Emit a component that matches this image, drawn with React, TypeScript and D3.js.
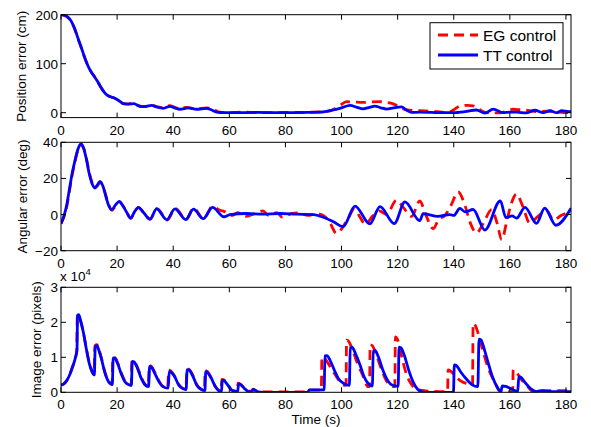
import React from 'react';
import * as d3 from 'd3';

type Pt = [number, number];

// x axis (time, s)
const xTicks = [0, 20, 40, 60, 80, 100, 120, 140, 160, 180];
const posTicks = [0, 100, 200];
const angTicks = [-20, 0, 20, 40];
const imgTicks = [0, 1, 2, 3]; // x 10^4
const legendNames = ['EG control', 'TT control'];

// position error (cm)
const posTT: Pt[] = [
  [0, 200], [1, 199], [2, 197], [3, 192], [4, 183], [5, 170], [6, 153], [7, 137], [8, 120],
  [9, 104], [10, 91], [11, 81], [12, 73], [13, 64], [14, 54], [15, 45], [16, 38], [17, 34],
  [18, 32], [19, 30], [20, 27], [21, 23], [22, 19], [23, 18], [24, 17.5], [25, 18], [26, 18.5],
  [27, 16], [28.2, 13], [30, 12.5], [32.3, 15], [34, 12], [36.5, 9], [38.8, 13], [40.5, 10],
  [42.4, 7], [45.4, 10], [48.3, 7], [51.9, 9], [53.5, 6], [55.5, 1], [58, 0], [61, 0], [70, 0.5],
  [80, 0], [88, 0.5], [92.3, 1], [97, 5.5], [100, 10], [103, 15], [105.5, 11], [107.7, 8],
  [110, 11], [111.9, 13.5], [114, 10], [116.1, 7.5], [118.5, 10], [121.4, 12], [123, 6],
  [125, 0.5], [127.9, 1], [132, 0.5], [136, 0], [139.8, 0], [144, 2], [148.1, 5.5], [151.1, -1],
  [154.1, 7.5], [157.6, 0], [160, 1], [162.4, 1], [166, -0.5], [168.9, 5], [171.9, 0],
  [174.3, 4], [176.7, 0], [178.5, 4], [180.9, 2], [182, 2],
];
const posEG: Pt[] = [
  [0, 200], [1, 199], [2, 196], [3, 191], [4, 182], [5, 169], [6, 152], [7, 136], [8, 119],
  [9, 104], [10, 91], [11, 81], [12, 73], [13, 64], [14, 54], [15, 45], [16, 38], [17, 34],
  [18, 32], [19, 30], [20, 27], [21, 23], [22, 19], [23, 18], [24, 18], [25, 18.5], [26, 19],
  [27, 16], [28.2, 13.5], [30, 13], [32.3, 15.5], [34, 12.5], [36.5, 10], [38.8, 14.5],
  [40.5, 11], [42.4, 8], [44.5, 11], [48.3, 8], [51.9, 10], [54, 8], [56.5, 1], [60, 0],
  [65, 1], [70, 0], [80, 0.5], [90, 1], [94, 2], [97, 6], [99.5, 15], [101.8, 22.5],
  [105, 21.5], [107.7, 21], [110.5, 22], [113.7, 22.5], [116, 21], [118.4, 18], [121, 11],
  [123.2, 5.5], [126.8, 4.5], [130, 3.5], [132.7, 3], [135, 1.5], [137.5, 0], [140, 6],
  [142.2, 13.5], [145, 15], [146.9, 14], [149, 7], [151.7, 0], [154, -0.5], [156.5, -0.5],
  [159, 4], [161.2, 7], [163.5, 6], [166, 5], [168, 3], [170.7, 2], [173, 3], [175.5, 3],
  [178, 1], [180.3, 0], [182, 0],
];

// angular error (deg)
const angTT: Pt[] = [
  [0, -5], [1, -1], [2, 5], [3, 14], [4, 23], [5, 30], [6, 36], [7.1, 39.2], [8, 37], [9, 31],
  [10, 23], [11, 17.5], [12.1, 14.7], [13, 16.5], [13.9, 18.4], [15, 15.5], [16, 10], [17, 5],
  [18.1, 2.7], [19.5, 5.5], [20.8, 7.3], [22, 5], [23.5, 1], [24.8, -1.9], [26.2, 1.5],
  [27.6, 4], [29.5, 1], [31.7, -2.5], [34.1, 3.1], [37.7, -2.8], [40.6, 3.1], [44.5, -2.8],
  [47.2, 3], [50.7, -2.3], [54, 4], [58.1, -1.2], [60.2, 0], [66, 0.6], [72, 0.2], [78, 0.6],
  [84, 0.2], [90, 0], [93.5, -1.5], [97.1, -4], [100.6, -6.7], [104.8, 4.7], [110.1, -5.2],
  [113.7, 4.4], [118.8, -5], [122.6, 7], [127.9, -3.4], [129.1, 0.5], [131, 0], [134.2, -1],
  [138.6, 0], [140, -0.5], [142.2, 3.4], [144, 1.5], [146.9, 2.8], [151.1, -8.6], [156.6, 7.6],
  [158.6, -1.7], [160.8, -0.7], [162.4, -2], [165.4, 4], [169.5, -4.9], [172.4, 3.6],
  [176.4, -5.9], [181.8, 3.5],
];
const angEG: Pt[] = [
  [0, -5], [1, -1.5], [2, 4], [3, 13], [4, 22], [5, 29.5], [6, 35.5], [7, 38.5], [8, 37],
  [9, 31.5], [10, 24], [11, 18], [12, 15], [13, 16], [14, 18], [15, 15.5], [16, 10.5],
  [17, 5.5], [18.2, 2.4], [19.5, 5], [20.8, 7], [22, 5], [23.5, 1], [24.9, -2.2], [26.2, 1.5],
  [27.6, 3.8], [29.5, 1], [31.8, -2.6], [34.2, 3.3], [37.9, -3], [40.7, 3.4], [44.6, -2.6],
  [47.3, 3.6], [50.8, -2.4], [54, 4.5], [56.5, 2.5], [58.5, 1.5], [61, -0.5], [63, 1],
  [66, -1], [69, 0.5], [72, 2], [74, -0.5], [77, 1], [79, -1.5], [82, 0.5], [85, 1],
  [88, -0.5], [91, 0.5], [94, -1], [96, -5], [98.2, -10.4], [100, -8], [102.4, -2],
  [104.5, 3], [106.8, -2], [108.5, -5.5], [111, -1], [113.5, 2], [116, 0], [119.6, 8],
  [122, 4], [125, -1], [127.9, 7.5], [130, 0], [132.7, -7.8], [134.5, -3], [136.9, -0.4],
  [139, 5], [141.6, 12.5], [144, 5], [146, -5], [148.1, -10.2], [150.5, -5], [153.5, 2.7],
  [155.5, -5], [157.1, -13.9], [159, -3], [160.5, 6], [162.4, 11.4], [164.5, 5],
  [167.1, -4.7], [170, -1], [173.1, 2.2], [175.6, -3], [178.4, -0.4], [181.8, 1.8],
];

// image error (pixels, x 10^4)
const imgTT: Pt[] = [
  [0, 0.2], [1, 0.24], [2, 0.33], [3, 0.48], [4, 0.7], [5, 0.95], [5.7, 1.2], [5.9, 2.2],
  [6.3, 2.22], [7, 2.05], [8, 1.7], [9, 1.25], [10, 0.85], [11, 0.6], [11.9, 0.5], [12.2, 1.3],
  [12.8, 1.33], [13.5, 1.2], [14.5, 0.93], [15.5, 0.6], [16.5, 0.37], [17.5, 0.25],
  [18.3, 0.22], [18.6, 0.98], [19.2, 0.97], [20.3, 0.8], [21.5, 0.52], [22.8, 0.3], [24, 0.22],
  [25.1, 0.2], [25.4, 0.88], [26, 0.87], [27.2, 0.7], [28.5, 0.42], [29.8, 0.23], [31.2, 0.16],
  [31.6, 0.74], [32.2, 0.72], [33.4, 0.55], [34.8, 0.32], [36.2, 0.17], [38.2, 0.12],
  [38.6, 0.6], [39.2, 0.58], [40.5, 0.45], [42, 0.2], [43.5, 0.1], [44.6, 0.08], [45, 0.65],
  [45.6, 0.64], [46.9, 0.48], [48.4, 0.2], [50, 0.08], [51.3, 0.05], [51.6, 0.59],
  [52.3, 0.56], [53.6, 0.4], [55.1, 0.15], [57.2, 0.02], [57.5, 0.35], [58.2, 0.33],
  [59.5, 0.2], [61, 0.05], [63, 0.02], [63.3, 0.24], [64, 0.22], [65.5, 0.1], [67, 0.02],
  [68, 0.02], [68.6, 0.08], [70, 0.02], [72, 0], [88, 0], [88.5, 0.07], [93.8, 0.07],
  [94.1, 1.04], [94.8, 1.05], [96, 0.9], [97.5, 0.62], [99, 0.38], [100.8, 0.25], [102.8, 0.2],
  [103.1, 1.27], [103.8, 1.28], [105, 1.1], [106.6, 0.78], [108, 0.45], [109.5, 0.25],
  [111, 0.18], [111.3, 1.18], [112, 1.19], [113.2, 1.0], [114.9, 0.6], [116.5, 0.33],
  [118.2, 0.2], [120.2, 0.17], [120.5, 1.29], [121.2, 1.27], [122.4, 1.05], [124, 0.62],
  [125.5, 0.3], [127, 0.1], [128.5, 0.02], [130, 0], [139.9, 0], [140.2, 0.78], [141, 0.76],
  [142.5, 0.58], [144.5, 0.38], [146.5, 0.22], [148.6, 0.16], [149, 1.52], [149.7, 1.5],
  [151, 1.2], [152.5, 0.78], [154, 0.4], [155.5, 0.15], [156.8, 0.02], [157.3, 0.18],
  [158.5, 0.17], [160.5, 0.1], [162.8, 0.02], [163.2, 0.45], [163.9, 0.43], [165.5, 0.27],
  [167.5, 0.1], [169.4, 0.02], [171, 0.05], [172.5, 0.04], [175, 0.02], [182, 0.02],
];
const imgEG: Pt[] = [
  [0, 0.2], [1, 0.24], [2, 0.33], [3, 0.48], [4, 0.7], [5, 0.95], [5.6, 1.2], [5.8, 2.18],
  [6.2, 2.2], [7, 2.03], [8, 1.7], [9, 1.27], [10, 0.88], [11, 0.62], [11.8, 0.5], [12.1, 1.33],
  [12.8, 1.36], [13.5, 1.22], [14.5, 0.95], [15.5, 0.62], [16.5, 0.38], [17.5, 0.26],
  [18.2, 0.23], [18.5, 1.0], [19.2, 0.99], [20.3, 0.82], [21.5, 0.55], [22.8, 0.32], [24, 0.22],
  [25, 0.2], [25.3, 0.9], [26, 0.89], [27.2, 0.72], [28.5, 0.45], [29.8, 0.24], [31.1, 0.16],
  [31.5, 0.76], [32.2, 0.74], [33.4, 0.57], [34.8, 0.34], [36.2, 0.18], [38, 0.12],
  [38.4, 0.63], [39.1, 0.61], [40.4, 0.47], [42, 0.22], [43.5, 0.11], [44.5, 0.09],
  [44.9, 0.67], [45.6, 0.66], [46.9, 0.5], [48.4, 0.22], [50, 0.09], [51.1, 0.06],
  [51.4, 0.62], [52.2, 0.59], [53.5, 0.42], [55, 0.17], [57, 0.03], [57.3, 0.37],
  [58.1, 0.35], [59.5, 0.22], [61, 0.06], [62.8, 0.03], [63.1, 0.26], [63.9, 0.24],
  [65.5, 0.11], [67, 0.03], [67.8, 0.03], [68.4, 0.09], [70, 0.03], [72, 0.01], [88, 0.01],
  [88.5, 0.06], [92.8, 0.06], [93, 1.0], [93.8, 0.98], [95.3, 0.82], [97, 0.6], [99, 0.35],
  [101, 0.2], [101.6, 0.2], [101.8, 1.49], [102.5, 1.46], [104, 1.2], [105.8, 0.8],
  [107.5, 0.5], [109.5, 0.16], [110, 0.16], [110.2, 1.36], [111, 1.33], [112.5, 1.05],
  [114.5, 0.6], [116.2, 0.3], [118.7, 0.16], [119, 0.16], [119.2, 1.58], [119.9, 1.52],
  [121.2, 1.1], [123.2, 0.5], [125, 0.22], [127, 0.08], [130, 0.04], [137.8, 0.02], [138, 0.64],
  [139, 0.6], [141, 0.42], [143, 0.3], [145, 0.24], [146.7, 0.21], [146.9, 1.97], [147.6, 1.92],
  [149, 1.6], [150.5, 1.15], [152.5, 0.65], [154.5, 0.3], [156.5, 0.03], [158, 0.02],
  [161, 0.02], [161.2, 0.64], [162, 0.6], [164, 0.38], [166, 0.2], [168.3, 0.02], [172, 0.04],
  [176, 0.05], [182, 0.04],
];

const W = 591;
const H = 427;
const LEFT = 61;
const RIGHT = 571;
const FONT = '"Liberation Sans", Arial, Helvetica, sans-serif';
const RED = '#ff0000';
const BLUE = '#0000ff';
const TICK = 5;

const x = d3.scaleLinear().domain([0, 181.8]).range([LEFT, RIGHT]);

const fmt = (v: number) => (v < 0 ? '\u2212' + Math.abs(v) : String(v));

type PanelProps = {
  id: string;
  top: number;
  bottom: number;
  domain: [number, number];
  ticks: number[];
  eg: Pt[];
  tt: Pt[];
  label: string;
  labelX: number;
};

function Panel({ id, top, bottom, domain, ticks, eg, tt, label, labelX }: PanelProps) {
  const y = d3.scaleLinear().domain(domain).range([bottom, top]);
  const line = d3
    .line<Pt>()
    .x((d) => x(d[0]))
    .y((d) => y(d[1]))
    .curve(d3.curveMonotoneX);

  return (
    <g>
      <clipPath id={id}>
        <rect x={LEFT} y={top} width={RIGHT - LEFT} height={bottom - top} />
      </clipPath>
      <rect x={LEFT} y={top} width={RIGHT - LEFT} height={bottom - top} fill="#fff" />
      <g clipPath={`url(#${id})`}>
        <path d={line(eg) || ''} fill="none" stroke={RED} strokeWidth={2.8} strokeDasharray="10,6" />
        <path d={line(tt) || ''} fill="none" stroke={BLUE} strokeWidth={2.8} strokeLinejoin="round" />
      </g>
      {xTicks.map((t) => (
        <g key={'x' + t}>
          <line x1={x(t)} x2={x(t)} y1={bottom} y2={bottom - TICK} stroke="#000" />
          <line x1={x(t)} x2={x(t)} y1={top} y2={top + TICK} stroke="#000" />
          <text x={x(t)} y={bottom + 17} textAnchor="middle" fontSize={13.5}>
            {t}
          </text>
        </g>
      ))}
      {ticks.map((t) => (
        <g key={'y' + t}>
          <line x1={LEFT} x2={LEFT + TICK} y1={y(t)} y2={y(t)} stroke="#000" />
          <line x1={RIGHT} x2={RIGHT - TICK} y1={y(t)} y2={y(t)} stroke="#000" />
          <text x={LEFT - 3} y={y(t) + 5} textAnchor="end" fontSize={13.5}>
            {fmt(t)}
          </text>
        </g>
      ))}
      <rect x={LEFT} y={top} width={RIGHT - LEFT} height={bottom - top} fill="none" stroke="#000" />
      <text
        transform={`translate(${labelX},${(top + bottom) / 2}) rotate(-90)`}
        textAnchor="middle"
        fontSize={13.5}
      >
        {label}
      </text>
    </g>
  );
}

export default function App() {
  const legend = { x: 430, y: 22.7, w: 133, h: 46.3 };
  return (
    <svg
      width={W}
      height={H}
      style={{ position: 'absolute', left: 0, top: 0, background: '#fff', fontFamily: FONT }}
    >
      <rect width={W} height={H} fill="#fff" />
      <Panel id="c1" top={14.7} bottom={117.6} domain={[-10, 200]} ticks={posTicks} eg={posEG} tt={posTT} label="Position error (cm)" labelX={26} />
      <Panel id="c2" top={142.3} bottom={250.7} domain={[-20, 40]} ticks={angTicks} eg={angEG} tt={angTT} label="Angular error (deg)" labelX={26.5} />
      <Panel id="c3" top={287.3} bottom={392.3} domain={[0, 3]} ticks={imgTicks} eg={imgEG} tt={imgTT} label="Image error (pixels)" labelX={40.5} />
      <text x={60} y={281} fontSize={13.5}>
        x 10
        <tspan dy={-6} fontSize={9.5}>4</tspan>
      </text>
      <text x={(LEFT + RIGHT) / 2} y={423.5} textAnchor="middle" fontSize={13.5}>
        Time (s)
      </text>
      <g>
        <rect x={legend.x} y={legend.y} width={legend.w} height={legend.h} fill="#fff" stroke="#000" />
        {legendNames.map((name, i) => (
          <g key={name}>
            <line
              x1={438}
              x2={478}
              y1={35 + i * 20}
              y2={35 + i * 20}
              stroke={i === 0 ? RED : BLUE}
              strokeWidth={2.8}
              strokeDasharray={i === 0 ? '10,6' : undefined}
            />
            <text x={483} y={40.5 + i * 20} fontSize={15.5}>
              {name}
            </text>
          </g>
        ))}
      </g>
    </svg>
  );
}
